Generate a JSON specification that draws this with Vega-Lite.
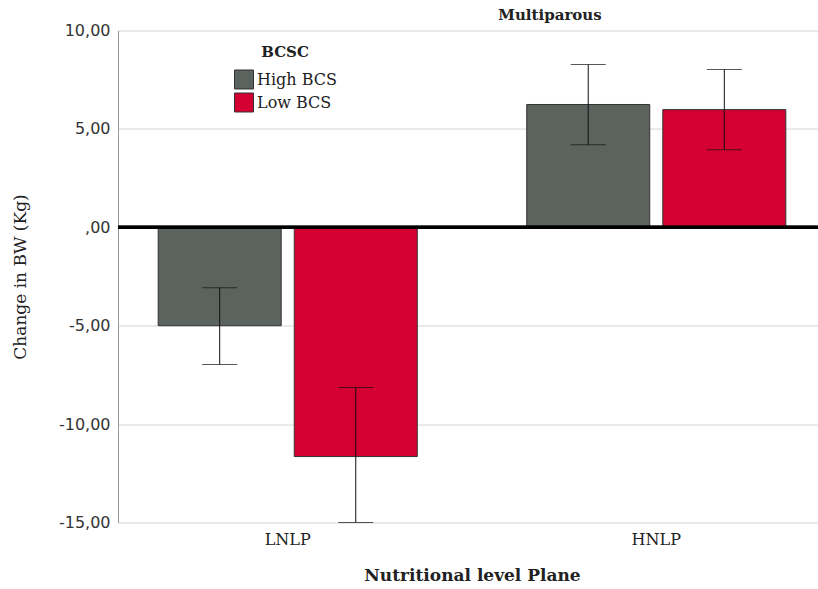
{
  "$schema": "https://vega.github.io/schema/vega-lite/v6.json",
  "width": 708,
  "height": 492,
  "autosize": {"type": "none"},
  "padding": {"left": 118, "top": 30.5, "right": 0, "bottom": 67},
  "background": "white",
  "title": {
    "text": "Multiparous",
    "frame": "group",
    "anchor": "middle",
    "dx": 78,
    "font": "DejaVu Serif",
    "fontSize": 15,
    "fontWeight": "bold",
    "color": "#222",
    "offset": 0
  },
  "data": {
    "values": [
      {"plane": "LNLP", "bcs": "High BCS", "mean": -5.0, "lo": -6.97, "hi": -3.07},
      {"plane": "LNLP", "bcs": "Low BCS", "mean": -11.65, "lo": -15.0, "hi": -8.14},
      {"plane": "HNLP", "bcs": "High BCS", "mean": 6.24, "lo": 4.19, "hi": 8.27},
      {"plane": "HNLP", "bcs": "Low BCS", "mean": 5.98, "lo": 3.94, "hi": 8.02}
    ]
  },
  "layer": [
    {
      "encoding": {
        "x": {
          "field": "plane",
          "type": "nominal",
          "sort": ["LNLP", "HNLP"],
          "scale": {"paddingInner": 0.297, "paddingOuter": 0.109},
          "axis": {
            "title": "Nutritional level Plane",
            "labelAngle": 0,
            "ticks": false,
            "domain": false,
            "labelPadding": 9,
            "labelFont": "DejaVu Serif",
            "labelFontSize": 16,
            "labelColor": "#222",
            "titleFont": "DejaVu Serif",
            "titleFontSize": 17,
            "titleFontWeight": "bold",
            "titleColor": "#222",
            "titleX": 354,
            "titleY": 45
          }
        },
        "xOffset": {
          "field": "bcs",
          "type": "nominal",
          "sort": ["High BCS", "Low BCS"],
          "scale": {"paddingInner": 0.096, "paddingOuter": 0}
        }
      },
      "layer": [
        {
          "mark": {"type": "bar", "stroke": "#333", "strokeWidth": 1},
          "encoding": {
            "y": {
              "field": "mean",
              "type": "quantitative",
              "scale": {"domain": [-15, 10], "nice": false},
              "axis": {
                "title": "Change in BW (Kg)",
                "values": [-15, -10, -5, 0, 5, 10],
                "labelExpr": "datum.value == 0 ? ',00' : replace((datum.value < 0 ? '-' : '') + format(abs(datum.value), '.2f'), '.', ',')",
                "ticks": false,
                "domainColor": "#999",
                "gridColor": "#d4d4d4",
                "labelFont": "DejaVu Sans",
                "labelFontSize": 16,
                "labelColor": "#333",
                "labelPadding": 8,
                "titleFont": "DejaVu Serif",
                "titleFontSize": 17,
                "titleFontWeight": "normal",
                "titleColor": "#222",
                "titleX": -89,
                "titleY": 246
              }
            },
            "color": {
              "field": "bcs",
              "type": "nominal",
              "sort": ["High BCS", "Low BCS"],
              "scale": {"domain": ["High BCS", "Low BCS"], "range": ["#5a635d", "#d50032"]},
              "legend": {
                "title": "BCSC",
                "orient": "none",
                "legendX": 116,
                "legendY": 14,
                "titleAnchor": "middle",
                "titleFont": "DejaVu Serif",
                "titleFontSize": 15,
                "titleFontWeight": "bold",
                "titleColor": "#222",
                "titlePadding": 10,
                "symbolType": "square",
                "symbolSize": 361,
                "symbolStrokeColor": "#333",
                "symbolStrokeWidth": 1,
                "labelFont": "DejaVu Serif",
                "labelFontSize": 16,
                "labelColor": "#222",
                "labelOffset": 3,
                "rowPadding": -1
              }
            }
          }
        },
        {
          "mark": {"type": "rule", "color": "#111", "strokeWidth": 1},
          "encoding": {
            "y": {"field": "lo", "type": "quantitative"},
            "y2": {"field": "hi"}
          }
        },
        {
          "mark": {"type": "tick", "color": "#111", "thickness": 1, "size": 35, "orient": "horizontal"},
          "encoding": {"y": {"field": "lo", "type": "quantitative"}}
        },
        {
          "mark": {"type": "tick", "color": "#111", "thickness": 1, "size": 35, "orient": "horizontal"},
          "encoding": {"y": {"field": "hi", "type": "quantitative"}}
        }
      ]
    },
    {
      "mark": {"type": "rule", "color": "black", "strokeWidth": 3},
      "encoding": {"y": {"datum": 0}}
    }
  ],
  "config": {
    "view": {"stroke": null}
  }
}
